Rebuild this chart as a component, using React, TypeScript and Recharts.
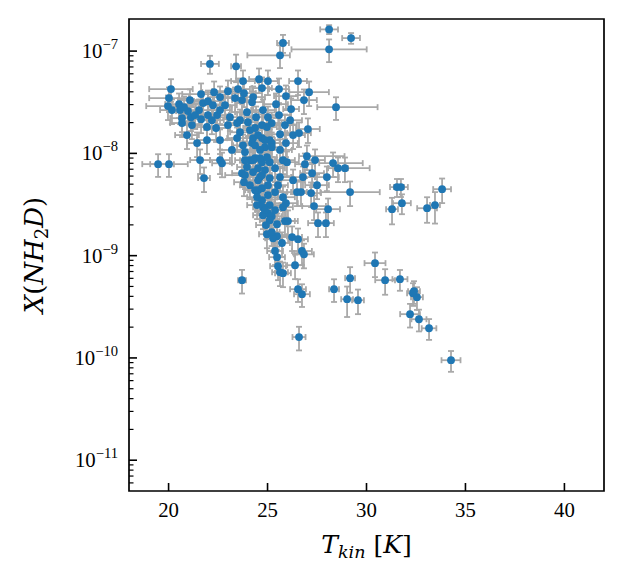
import React from "react";
import { ScatterChart, Scatter, XAxis, YAxis, ErrorBar, ReferenceArea } from "recharts";

// Each row: [T_kin (K), X(NH2D), T error low (K), T error high (K), relative error of X]
type Row = [number, number, number, number, number];

const outliersTop: Row[] = [
  [28.11, 1.63e-7, 0.45, 0.45, 0.1],
  [29.22, 1.34e-7, 0.45, 0.45, 0.12],
  [25.78, 1.2e-7, 0.3, 0.3, 0.2],
  [28.11, 1.04e-7, 1.9, 1.9, 0.25],
  [25.63, 9.1e-8, 1.65, 0.5, 0.25],
  [22.09, 7.5e-8, 0.45, 0.45, 0.2],
  [23.41, 7.1e-8, 0.25, 0.25, 0.3],
  [20.12, 4.25e-8, 1.1, 1.1, 0.25],
  [28.46, 2.83e-8, 0.95, 2.1, 0.25],
];

const coolCluster: Row[] = [
  [20.02, 3.47e-8, 1.0, 1.0, 0.27],
  [19.97, 2.9e-8, 1.1, 0.6, 0.27],
  [20.17, 2.65e-8, 0.6, 0.6, 0.27],
  [20.53, 3.03e-8, 0.7, 0.7, 0.27],
  [20.58, 2.65e-8, 0.5, 0.5, 0.27],
  [20.68, 2.21e-8, 0.6, 0.6, 0.27],
  [20.98, 2.59e-8, 0.6, 0.6, 0.27],
  [21.13, 2.26e-8, 0.6, 0.6, 0.27],
  [21.18, 1.89e-8, 0.5, 0.5, 0.27],
  [21.54, 2.65e-8, 0.7, 0.7, 0.27],
  [21.74, 3.1e-8, 0.6, 0.6, 0.27],
  [21.99, 3.24e-8, 0.7, 0.7, 0.27],
  [22.24, 2.96e-8, 0.6, 0.6, 0.27],
  [21.64, 3.8e-8, 0.95, 0.95, 0.27],
  [21.99, 2.37e-8, 0.6, 0.6, 0.27],
  [21.64, 2.16e-8, 0.6, 0.6, 0.27],
  [20.93, 1.51e-8, 0.6, 0.6, 0.27],
  [21.44, 1.26e-8, 0.5, 0.5, 0.27],
  [21.94, 1.35e-8, 0.5, 0.5, 0.27],
  [20.68, 1.98e-8, 0.6, 0.6, 0.27],
  [22.45, 2.37e-8, 0.6, 0.6, 0.27],
  [22.6, 2.65e-8, 0.6, 0.6, 0.27],
  [22.6, 3.55e-8, 0.6, 0.6, 0.27],
  [22.4, 1.77e-8, 0.6, 0.6, 0.27],
  [21.94, 1.81e-8, 0.5, 0.5, 0.27],
  [22.6, 1.35e-8, 0.6, 0.6, 0.27],
  [23.1, 2.26e-8, 0.6, 0.6, 0.27],
  [23.0, 4.06e-8, 0.8, 0.8, 0.27],
  [23.2, 1.08e-8, 0.6, 0.6, 0.27],
  [20.78, 2.83e-8, 0.6, 0.6, 0.27],
  [21.34, 2.37e-8, 0.6, 0.6, 0.27],
  [22.19, 2.11e-8, 0.6, 0.6, 0.27],
  [22.85, 2.96e-8, 0.6, 0.6, 0.27],
  [23.0, 1.89e-8, 0.6, 0.6, 0.27],
  [21.08, 3.32e-8, 0.6, 0.6, 0.27],
  [22.3, 3.97e-8, 0.6, 0.6, 0.27],
];

const coolLow: Row[] = [
  [21.59, 8.6e-9, 0.5, 0.5, 0.27],
  [22.6, 8.6e-9, 0.5, 0.5, 0.27],
  [22.7, 8.0e-9, 0.5, 0.5, 0.27],
  [21.79, 5.73e-9, 0.3, 0.3, 0.27],
  [19.47, 7.85e-9, 0.8, 0.8, 0.25],
  [20.02, 7.85e-9, 0.95, 0.95, 0.25],
];

const midUpper: Row[] = [
  [23.76, 5.09e-8, 0.6, 0.6, 0.27],
  [24.57, 5.32e-8, 0.5, 0.5, 0.27],
  [25.02, 5.09e-8, 0.5, 0.5, 0.27],
  [24.72, 4.35e-8, 0.5, 0.5, 0.27],
  [26.54, 5.09e-8, 0.45, 0.45, 0.27],
  [23.51, 4.25e-8, 0.6, 0.6, 0.27],
  [23.81, 3.88e-8, 0.6, 0.6, 0.27],
  [24.27, 3.55e-8, 0.6, 0.6, 0.27],
  [25.58, 4.25e-8, 0.5, 0.5, 0.27],
  [25.93, 3.63e-8, 0.6, 0.6, 0.27],
  [27.1, 3.97e-8, 1.0, 1.0, 0.27],
  [26.84, 3.32e-8, 0.65, 0.65, 0.27],
  [26.19, 2.71e-8, 0.4, 0.4, 0.27],
  [23.36, 3.47e-8, 0.6, 0.6, 0.27],
  [23.71, 3.32e-8, 0.5, 0.5, 0.27],
  [24.22, 3.17e-8, 0.6, 0.6, 0.27],
  [24.77, 2.65e-8, 0.6, 0.6, 0.27],
  [25.43, 3.03e-8, 0.6, 0.6, 0.27],
  [25.58, 2.37e-8, 0.6, 0.6, 0.27],
  [23.96, 2.53e-8, 0.6, 0.6, 0.27],
  [23.61, 2.11e-8, 0.6, 0.6, 0.27],
  [24.01, 2.02e-8, 0.5, 0.5, 0.27],
  [23.46, 1.98e-8, 0.5, 0.5, 0.27],
  [25.02, 2.26e-8, 0.6, 0.6, 0.27],
  [25.21, 1.98e-8, 0.5, 0.5, 0.27],
  [24.97, 1.81e-8, 0.5, 0.5, 0.27],
  [24.42, 2.26e-8, 0.6, 0.6, 0.27],
  [24.72, 1.89e-8, 0.6, 0.6, 0.27],
  [25.88, 1.89e-8, 0.6, 0.6, 0.27],
  [26.14, 2.11e-8, 0.6, 0.6, 0.27],
  [24.37, 1.77e-8, 0.6, 0.6, 0.27],
];

const midCore: Row[] = [
  [23.61, 1.61e-8, 0.5, 0.5, 0.27],
  [23.46, 1.41e-8, 0.5, 0.5, 0.27],
  [24.11, 1.69e-8, 0.6, 0.6, 0.27],
  [24.27, 1.41e-8, 0.5, 0.5, 0.27],
  [24.72, 1.41e-8, 0.5, 0.5, 0.27],
  [25.11, 1.35e-8, 0.5, 0.5, 0.27],
  [25.21, 1.26e-8, 0.6, 0.6, 0.27],
  [25.63, 1.54e-8, 0.6, 0.6, 0.27],
  [26.29, 1.51e-8, 0.6, 0.6, 0.27],
  [26.59, 1.58e-8, 0.6, 0.6, 0.27],
  [27.04, 1.73e-8, 0.6, 0.6, 0.27],
  [25.93, 1.26e-8, 0.6, 0.6, 0.27],
  [24.22, 1.26e-8, 0.5, 0.5, 0.27],
  [23.76, 1.2e-8, 0.5, 0.5, 0.27],
  [23.86, 1.03e-8, 0.5, 0.5, 0.27],
  [24.87, 1.15e-8, 0.5, 0.5, 0.27],
  [25.21, 1.15e-8, 0.5, 0.5, 0.27],
  [24.37, 1.2e-8, 0.5, 0.5, 0.27],
  [24.62, 1.08e-8, 0.5, 0.5, 0.27],
  [24.52, 1.51e-8, 0.5, 0.5, 0.27],
  [24.87, 1.35e-8, 0.5, 0.5, 0.27],
  [25.63, 1.08e-8, 0.6, 0.6, 0.27],
  [24.37, 8.98e-9, 0.5, 0.5, 0.27],
  [24.72, 8.21e-9, 0.5, 0.5, 0.27],
  [24.11, 8.59e-9, 0.5, 0.5, 0.27],
  [23.86, 8.59e-9, 0.5, 0.5, 0.27],
  [24.27, 8.59e-9, 0.5, 0.5, 0.27],
  [24.62, 8.98e-9, 0.5, 0.5, 0.27],
  [25.11, 8.21e-9, 0.5, 0.5, 0.27],
  [25.78, 8.59e-9, 0.6, 0.6, 0.27],
  [24.97, 9.19e-9, 0.5, 0.5, 0.27],
];

const midLower: Row[] = [
  [23.96, 7.34e-9, 0.5, 0.5, 0.27],
  [23.71, 6.41e-9, 0.5, 0.5, 0.27],
  [23.86, 6.13e-9, 1.0, 1.0, 0.27],
  [23.81, 5.23e-9, 0.5, 0.5, 0.27],
  [24.52, 7.17e-9, 0.6, 0.6, 0.27],
  [24.62, 5.86e-9, 0.6, 0.6, 0.27],
  [25.11, 5.73e-9, 0.6, 0.6, 0.27],
  [25.38, 7.17e-9, 0.5, 0.5, 0.27],
  [25.63, 5.86e-9, 0.6, 0.6, 0.27],
  [25.98, 8.21e-9, 0.6, 0.6, 0.27],
  [24.87, 6.86e-9, 0.5, 0.5, 0.27],
  [24.52, 5.47e-9, 0.5, 0.5, 0.27],
  [24.27, 6.56e-9, 0.5, 0.5, 0.27],
  [24.72, 6.13e-9, 0.5, 0.5, 0.27],
  [24.72, 4.57e-9, 0.5, 0.5, 0.27],
  [25.02, 4.89e-9, 0.5, 0.5, 0.27],
  [25.53, 4.89e-9, 0.5, 0.5, 0.27],
  [24.11, 4.89e-9, 0.5, 0.5, 0.27],
  [24.52, 4.37e-9, 0.5, 0.5, 0.27],
  [24.37, 4.37e-9, 0.5, 0.5, 0.27],
  [24.47, 3.73e-9, 0.5, 0.5, 0.27],
  [25.38, 4.18e-9, 0.6, 0.6, 0.27],
  [25.78, 3.73e-9, 0.6, 0.6, 0.27],
  [25.93, 3.26e-9, 0.6, 0.6, 0.27],
  [25.02, 3.91e-9, 0.5, 0.5, 0.27],
  [24.72, 3.49e-9, 0.5, 0.5, 0.27],
];

const warmBranch: Row[] = [
  [26.99, 9.4e-9, 0.4, 1.9, 0.27],
  [27.4, 8.6e-9, 0.5, 0.5, 0.27],
  [26.89, 7.85e-9, 0.5, 0.5, 0.27],
  [28.31, 8.03e-9, 0.7, 1.5, 0.27],
  [28.56, 7.17e-9, 0.5, 0.5, 0.27],
  [28.91, 7.17e-9, 0.5, 1.25, 0.27],
  [26.29, 5.47e-9, 0.6, 0.6, 0.27],
  [26.79, 5.86e-9, 0.6, 0.6, 0.27],
  [27.25, 6.41e-9, 0.6, 0.6, 0.27],
  [27.5, 4.89e-9, 0.6, 0.6, 0.27],
  [28.0, 5.86e-9, 0.6, 0.6, 0.27],
  [26.49, 4.18e-9, 0.5, 0.5, 0.27],
  [26.69, 4.18e-9, 0.5, 0.5, 0.27],
  [27.2, 4.09e-9, 0.5, 0.5, 0.27],
  [29.17, 4.18e-9, 1.5, 1.5, 0.27],
  [27.35, 3.05e-9, 0.6, 0.6, 0.27],
  [28.06, 2.85e-9, 0.6, 0.6, 0.27],
  [27.55, 2.08e-9, 0.5, 0.5, 0.27],
  [27.95, 2.08e-9, 0.4, 0.4, 0.27],
];

const steepBranch: Row[] = [
  [24.47, 3.12e-9, 0.5, 0.5, 0.27],
  [24.77, 2.98e-9, 0.5, 0.5, 0.27],
  [25.02, 2.6e-9, 0.5, 0.5, 0.27],
  [24.77, 2.49e-9, 0.5, 0.5, 0.27],
  [25.21, 2.43e-9, 0.5, 0.5, 0.27],
  [25.11, 2.22e-9, 0.5, 0.5, 0.27],
  [25.88, 2.18e-9, 0.5, 0.5, 0.27],
  [26.03, 2.18e-9, 0.5, 0.5, 0.27],
  [25.48, 2.03e-9, 0.5, 0.5, 0.27],
  [25.78, 2.98e-9, 0.5, 0.5, 0.27],
  [25.11, 3.12e-9, 0.5, 0.5, 0.27],
  [25.38, 2.79e-9, 0.5, 0.5, 0.27],
  [24.87, 2.79e-9, 0.5, 0.5, 0.27],
  [24.92, 1.99e-9, 0.5, 0.5, 0.27],
  [24.97, 1.62e-9, 0.4, 0.4, 0.27],
  [25.48, 1.55e-9, 0.5, 0.5, 0.27],
  [25.28, 1.48e-9, 0.4, 0.4, 0.27],
  [25.73, 1.33e-9, 0.4, 0.4, 0.27],
  [26.24, 1.52e-9, 0.5, 0.5, 0.27],
  [26.54, 1.45e-9, 0.5, 0.5, 0.27],
  [25.21, 1.7e-9, 0.4, 0.4, 0.27],
  [25.38, 1.11e-9, 0.4, 0.4, 0.27],
  [25.48, 9.67e-10, 0.4, 0.4, 0.27],
  [26.74, 1.11e-9, 0.5, 0.5, 0.27],
  [26.84, 1.03e-9, 0.5, 0.5, 0.27],
  [26.39, 8.07e-10, 0.4, 0.4, 0.27],
  [25.53, 7.89e-10, 0.4, 0.4, 0.27],
  [25.63, 6.9e-10, 0.4, 0.4, 0.27],
  [25.78, 6.74e-10, 0.4, 0.4, 0.27],
];

const lowAbundance: Row[] = [
  [23.71, 5.76e-10, 0.2, 0.2, 0.26],
  [26.54, 4.7e-10, 0.4, 0.4, 0.25],
  [26.74, 4.2e-10, 0.4, 0.4, 0.25],
  [28.36, 4.7e-10, 0.25, 0.25, 0.25],
  [29.02, 3.75e-10, 0.3, 0.3, 0.33],
  [29.57, 3.67e-10, 0.3, 0.3, 0.27],
  [29.17, 6.03e-10, 0.25, 0.25, 0.28],
  [30.43, 8.45e-10, 0.53, 0.53, 0.27],
  [26.59, 1.6e-10, 0.33, 0.33, 0.26],
];

const hotGroup: Row[] = [
  [31.54, 4.68e-9, 0.35, 0.35, 0.2],
  [31.74, 4.68e-9, 0.35, 0.35, 0.2],
  [31.79, 3.26e-9, 0.45, 0.45, 0.22],
  [31.29, 2.85e-9, 0.3, 0.3, 0.29],
  [33.06, 2.91e-9, 0.5, 0.5, 0.28],
  [33.46, 3.12e-9, 0.25, 0.25, 0.34],
  [33.82, 4.47e-9, 0.45, 0.45, 0.27],
  [30.94, 5.76e-10, 0.5, 0.5, 0.28],
  [31.69, 5.89e-10, 0.38, 0.38, 0.23],
  [32.35, 4.3e-10, 0.3, 0.3, 0.25],
  [32.55, 3.93e-10, 0.3, 0.3, 0.25],
  [32.4, 4.5e-10, 0.3, 0.3, 0.25],
  [32.2, 2.68e-10, 0.5, 0.5, 0.26],
  [32.65, 2.39e-10, 0.38, 0.38, 0.24],
  [33.16, 1.95e-10, 0.37, 0.37, 0.23],
  [34.27, 9.5e-11, 0.48, 0.48, 0.23],
];

const xTicks = [20, 25, 30, 35, 40];
const yTicks = [
  6e-12, 7e-12, 8e-12, 9e-12,
  1e-11, 2e-11, 3e-11, 4e-11, 5e-11, 6e-11, 7e-11, 8e-11, 9e-11,
  1e-10, 2e-10, 3e-10, 4e-10, 5e-10, 6e-10, 7e-10, 8e-10, 9e-10,
  1e-9, 2e-9, 3e-9, 4e-9, 5e-9, 6e-9, 7e-9, 8e-9, 9e-9,
  1e-8, 2e-8, 3e-8, 4e-8, 5e-8, 6e-8, 7e-8, 8e-8, 9e-8,
  1e-7,
];
const xDomain: [number, number] = [18, 42];
const yDomain: [number, number] = [5e-12, 2.06e-7];

const allRows: Row[] = [
  ...outliersTop, ...coolCluster, ...coolLow, ...midUpper, ...midCore,
  ...midLower, ...warmBranch, ...steepBranch, ...lowAbundance, ...hotGroup,
];

const data = allRows.map(([t, x, lo, hi, rel]) => ({
  t,
  x,
  tErr: [lo, hi],
  xErr: [x * rel, x * rel],
}));

const SERIF = "'Liberation Serif', 'Times New Roman', serif";
const MATH = "'DejaVu Serif', serif";
const BLUE = "#1f77b4";
const GREY = "#a9a9a9";

const XTick = (p: any) => {
  const { x, y, payload } = p;
  return (
    <g>
      <line x1={x} x2={x} y1={y} y2={y - 8} stroke="#000" strokeWidth={1.6} />
      <text x={x} y={y + 26} textAnchor="middle" fontFamily={SERIF} fontSize={20.8} fill="#000">
        {payload.value}
      </text>
    </g>
  );
};

const YTick = (p: any) => {
  const { x, y, payload } = p;
  const v = payload.value as number;
  const lg = Math.log10(v);
  const e = Math.round(lg);
  const major = Math.abs(lg - e) < 1e-6;
  return (
    <g>
      <line
        x1={x}
        x2={x + (major ? 8 : 4.5)}
        y1={y}
        y2={y}
        stroke="#000"
        strokeWidth={major ? 1.6 : 1.2}
      />
      {major && (
        <text x={x - 11} y={y + 7} textAnchor="end" fontFamily={SERIF} fontSize={20.8} fill="#000">
          10
          <tspan dy={-9} fontSize={14.6}>{"\u2212" + Math.abs(e)}</tspan>
        </text>
      )}
    </g>
  );
};

const XLabel = (p: any) => {
  const vb = p.viewBox || { x: 121, y: 483, width: 475, height: 50 };
  const cx = vb.x + vb.width / 2;
  const cy = vb.y + 62;
  return (
    <text x={cx} y={cy} textAnchor="middle" fontFamily={MATH} fontSize={25} fill="#000">
      <tspan fontStyle="italic">T</tspan>
      <tspan fontStyle="italic" fontSize={17.5} dy={5}>kin</tspan>
      <tspan dy={-5}>{"\u00a0["}</tspan>
      <tspan fontStyle="italic">K</tspan>
      <tspan>]</tspan>
    </text>
  );
};

const YLabel = (p: any) => {
  const vb = p.viewBox || { x: 21, y: 11, width: 100, height: 472 };
  const cx = vb.x + 14;
  const cy = vb.y + vb.height / 2;
  return (
    <text
      x={cx}
      y={cy}
      transform={`rotate(-90 ${cx} ${cy})`}
      textAnchor="middle"
      fontFamily={MATH}
      fontSize={26}
      fill="#000"
    >
      <tspan fontStyle="italic">X</tspan>
      <tspan>(</tspan>
      <tspan fontStyle="italic">NH</tspan>
      <tspan fontSize={18} dy={5}>2</tspan>
      <tspan fontStyle="italic" dy={-5}>D</tspan>
      <tspan>)</tspan>
    </text>
  );
};

const Dot = (p: any) => <circle cx={p.cx} cy={p.cy} r={3.9} fill={BLUE} />;

export default function App() {
  return (
    <ScatterChart width={600} height={560} margin={{ top: 11, right: 4, bottom: 27, left: 21 }}>
      <XAxis
        type="number"
        dataKey="t"
        domain={xDomain}
        allowDataOverflow
        ticks={xTicks}
        interval={0}
        tickSize={0}
        tickMargin={0}
        tickLine={false}
        axisLine={false}
        height={50}
        tick={<XTick />}
        label={<XLabel />}
      />
      <YAxis
        type="number"
        dataKey="x"
        scale="log"
        domain={yDomain}
        allowDataOverflow
        ticks={yTicks}
        interval={0}
        tickSize={0}
        tickMargin={0}
        tickLine={false}
        axisLine={false}
        width={100}
        tick={<YTick />}
        label={<YLabel />}
      />
      <Scatter data={data} isAnimationActive={false} shape={<Dot />}>
        <ErrorBar dataKey="tErr" direction="x" width={3} stroke={GREY} strokeWidth={1.8} isAnimationActive={false} />
        <ErrorBar dataKey="xErr" direction="y" width={3} stroke={GREY} strokeWidth={1.8} isAnimationActive={false} />
      </Scatter>
      <ReferenceArea
        x1={xDomain[0]}
        x2={xDomain[1]}
        y1={yDomain[0]}
        y2={yDomain[1]}
        fill="none"
        stroke="#000"
        strokeWidth={1.7}
        ifOverflow="visible"
      />
    </ScatterChart>
  );
}
